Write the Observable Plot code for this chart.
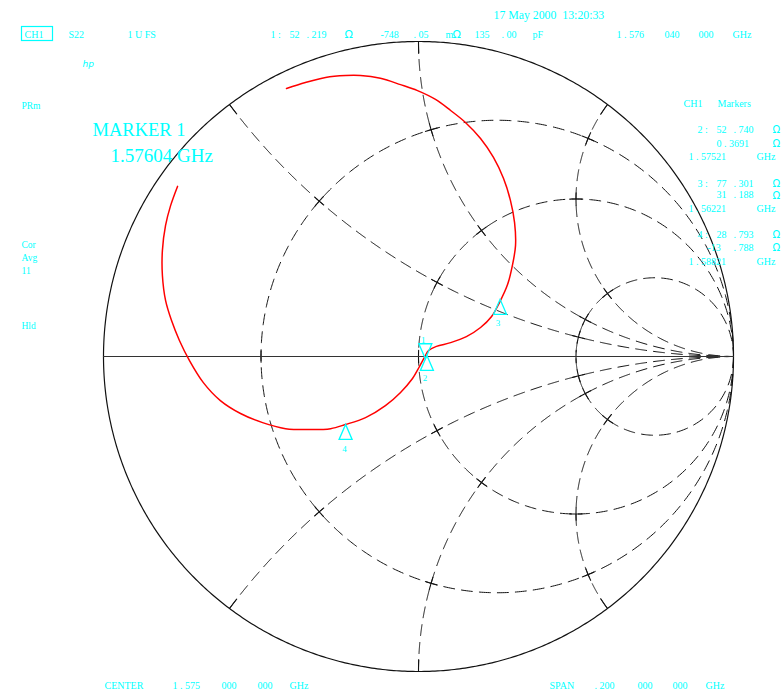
<!DOCTYPE html>
<html><head><meta charset="utf-8">
<script src="https://cdn.jsdelivr.net/npm/d3@7"></script>
<script src="https://cdn.jsdelivr.net/npm/@observablehq/plot@0.6"></script>
<style>body{margin:0;background:#fff} svg{display:block}</style>
</head><body><div id="chart"></div>
<script>
// ---- data (reflection coefficient Γ) ----
const traceU = [-0.765,-0.787,-0.803,-0.813,-0.813,-0.803,-0.784,-0.759,-0.727,-0.683,-0.629,-0.565,-0.495,-0.422,-0.343,-0.279,-0.232,-0.168,-0.105,-0.057,-0.019,0.003,0.019,0.032,0.057,0.102,0.152,0.197,0.232,0.257,0.283,0.298,0.308,0.305,0.292,0.270,0.238,0.197,0.149,0.102,0.054,-0.003,-0.057,-0.121,-0.184,-0.232,-0.295,-0.359,-0.419];
const traceV = [0.540,0.479,0.416,0.337,0.257,0.178,0.114,0.051,-0.013,-0.083,-0.140,-0.181,-0.210,-0.229,-0.232,-0.229,-0.216,-0.194,-0.156,-0.114,-0.070,-0.032,-0.003,0.019,0.032,0.044,0.063,0.092,0.127,0.171,0.229,0.289,0.352,0.425,0.495,0.565,0.632,0.692,0.743,0.781,0.816,0.844,0.863,0.883,0.892,0.892,0.886,0.870,0.851];
const markerIds = ["1","2","3","4"];
const markerRes = [52.219, 52.740, 77.301, 28.793];     // Ω
const markerReact = [-0.74805, 0.3691, 31.188, -13.788]; // Ω
const z0 = 50;
const rCircles = [1/3, 1, 3];
const xArcs = [0.5, 1, 2, -0.5, -1, -2];

// ---- Smith chart helpers ----
function gam(r, x){ const d=(r+1)*(r+1)+x*x; return {u:(r*r-1+x*x)/d, v:2*x/d}; }
const dist = (a,b)=>Math.hypot(a.u-b.u,a.v-b.v);

const outer = d3.range(721).map(k=>({u:Math.cos(2*Math.PI*k/720), v:Math.sin(2*Math.PI*k/720)}));
const axisLine = [{u:-1,v:0},{u:1,v:0}];

const grid = [];
rCircles.forEach((r,i)=>{
  for(let k=0;k<=800;k++){ const phi=-Math.PI/2+Math.PI*k/800; const x=(k===0||k===800)?Infinity:Math.tan(phi);
    const p = isFinite(x)?gam(r,x):{u:1,v:0}; grid.push({...p,id:"r"+i}); }
});
xArcs.forEach((x,i)=>{
  for(let k=0;k<=600;k++){ const s=k/600; const p = k===600?{u:1,v:0}:gam(s/(1-s),x); grid.push({...p,id:"x"+i}); }
});

// solid starts of the reactance arcs at the rim
const ticks = [];
xArcs.forEach((x,i)=>{
  const P0 = gam(0,x); let r=0, p=P0;
  while(dist(p,P0)<0.038){ ticks.push({...p,id:"t"+i}); r+=0.0005; p=gam(r,x); }
});
// small crosses at intersections
function near(f,a,b,P,rad,id){ for(let k=0;k<=3000;k++){ const t=a+(b-a)*k/3000; const p=f(t); if(dist(p,P)<rad) ticks.push({...p,id}); } }
rCircles.forEach((r0,i)=>{
  [0,...xArcs].forEach((x0,j)=>{
    const P=gam(r0,x0);
    near(x=>gam(r0,x), x0-3, x0+3, P, 0.02, `c${i}_${j}a`);
    if(x0!==0) near(r=>gam(r,x0), Math.max(0,r0-2), r0+6, P, 0.02, `c${i}_${j}b`);
  });
});

const trace = traceU.map((u,i)=>({u, v:traceV[i]}));
const markers = markerIds.map((id,i)=>({id, ...gam(markerRes[i]/z0, markerReact[i]/z0)}));

const ink = "#00ffff";
const triUp = {draw(c){ c.moveTo(0,0); c.lineTo(6.5,15); c.lineTo(-6.5,15); c.closePath(); }};
const triDown = {draw(c){ c.moveTo(0,0); c.lineTo(6.5,-15); c.lineTo(-6.5,-15); c.closePath(); }};

function lab(s,x,y,size=10,o={}){
  return Plot.text([s],{text:d=>d, frameAnchor:"top-left", dx:x, dy:y, textAnchor:"start", lineAnchor:"bottom", fontSize:size, fill:ink, ...o});
}
const om = (x,y)=>lab("Ω",x,y,10,{fontFamily:"DejaVu Sans"});
const labels = [
  lab("17 May 2000  13:20:33",493,18,11.8),
  lab("CH1",24,37), lab("S22",68,37), lab("1 U FS",127,37),
  lab("1 :",270,37), lab("52",289,37), lab(". 219",306,37), lab("Ω",344,37,11,{fontFamily:"DejaVu Sans"}),
  lab("-748",380,37), lab(". 05",413,37), lab("m",445,37), lab("Ω",452,37,11,{fontFamily:"DejaVu Sans"}),
  lab("135",474,37), lab(". 00",501,37), lab("pF",532,37),
  lab("1 . 576",616,37), lab("040",664,37), lab("000",698,37), lab("GHz",732,37),
  lab("hp",82,66,9,{fontFamily:"DejaVu Sans", fontStyle:"italic"}),
  lab("PRm",21,108,9.5), lab("Cor",21,247,9.5), lab("Avg",21,260,9.5), lab("11",21,273,9.5), lab("Hld",21,328,9.5),
  lab("MARKER 1",92,135,18.5), lab("1.57604 GHz",110,161,19),
  lab("CH1",683,106), lab("Markers",717,106),
  lab("2 :",697,132), lab("52",716,132), lab(". 740",733,132), om(772,132),
  lab("0 . 3691",716,146), om(772,146),
  lab("1 . 57521",688,159), lab("GHz",756,159),
  lab("3 :",697,186), lab("77",716,186), lab(". 301",733,186), om(772,186),
  lab("31",716,197.5), lab(". 188",733,197.5), om(772,198),
  lab("1 . 56221",688,211), lab("GHz",756,211),
  lab("4 :",697,237), lab("28",716,237), lab(". 793",733,237), om(772,237),
  lab("-13",707,250), lab(". 788",733,250), om(772,250),
  lab("1 . 58821",688,264), lab("GHz",756,264),
  lab("CENTER",104,688), lab("1 . 575",172,688), lab("000",221,688), lab("000",257,688), lab("GHz",289,688),
  lab("SPAN",549,688), lab(". 200",594,688), lab("000",637,688), lab("000",672,688), lab("GHz",705,688)
];

const labelOffsets = {"1":[-2,-19],"2":[-2,23],"3":[-2,24],"4":[-1,25]};

const chart = Plot.plot({
  width:783, height:691, margin:0,
  style:{fontFamily:"Liberation Serif", background:"#fff"},
  x:{domain:[-1,1], range:[103,733], axis:null},
  y:{domain:[-1,1], range:[671,41], axis:null},
  marks:[
    Plot.line(grid,{x:"u",y:"v",z:"id",stroke:"#111",strokeWidth:1,strokeDasharray:"11,7"}),
    Plot.line(ticks,{x:"u",y:"v",z:"id",stroke:"#111",strokeWidth:1.1}),
    Plot.line(outer,{x:"u",y:"v",stroke:"#111",strokeWidth:1.2}),
    Plot.line(axisLine,{x:"u",y:"v",stroke:"#333",strokeWidth:1.2}),
    Plot.line(trace,{x:"u",y:"v",stroke:"#ff0000",strokeWidth:1.5,curve:"catmull-rom"}),
    Plot.dot(markers.filter(d=>d.id==="1"),{x:"u",y:"v",r:5,symbol:triDown,stroke:ink,fill:"none",strokeWidth:1.3}),
    Plot.dot(markers.filter(d=>d.id!=="1"),{x:"u",y:"v",r:5,symbol:triUp,stroke:ink,fill:"none",strokeWidth:1.3}),
    ...markers.map(m=>Plot.text([m],{x:"u",y:"v",text:"id",dx:labelOffsets[m.id][0],dy:labelOffsets[m.id][1],fontSize:9,fill:ink})),
    ...labels
  ]
});
d3.select(chart).append("rect").attr("x",21.5).attr("y",26.5).attr("width",31).attr("height",14)
  .attr("fill","none").attr("stroke",ink).attr("stroke-width",1.2);
document.getElementById("chart").append(chart);
</script></body></html>
